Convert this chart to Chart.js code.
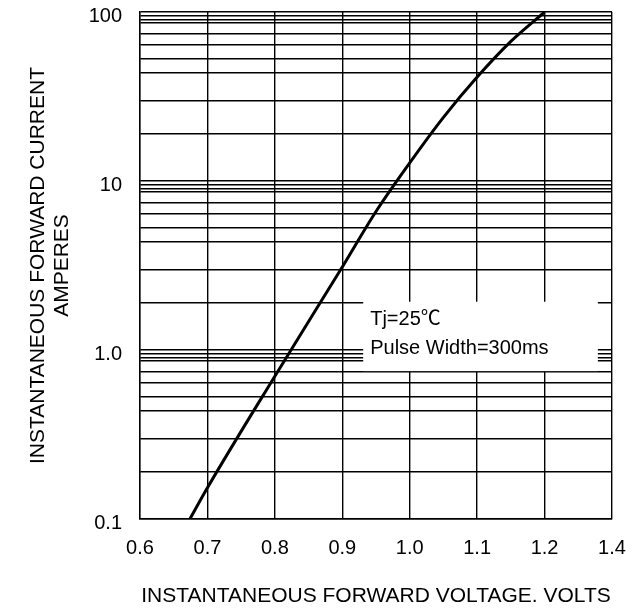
<!DOCTYPE html>
<html>
<head>
<meta charset="utf-8">
<script src="https://cdn.jsdelivr.net/npm/chart.js@4/dist/chart.umd.min.js"></script>
<style>
  html, body { margin: 0; padding: 0; background: #fff; }
  #wrap { width: 637px; height: 610px; }
</style>
</head>
<body>
<div id="wrap"><canvas id="grafico" width="637" height="610"></canvas></div>
<script>
// === dados ===
const voltage = [0.674, 0.70, 0.80, 0.90, 0.95, 1.0, 1.05, 1.10, 1.15, 1.20];
const current = [0.1, 0.153, 0.70, 3.1, 6.6, 12.8, 23.8, 41.2, 67, 100];

// eixo x: 8 linhas, o ultimo rotulo e "1.4" no original
const xTicks  = [0.6, 0.7, 0.8, 0.9, 1.0, 1.1, 1.2, 1.3];
const xLabels = ['0.6', '0.7', '0.8', '0.9', '1.0', '1.1', '1.2', '1.4'];

// eixo y: decadas e linhas de grade dentro de cada decada (como desenhado)
const decades   = [0.1, 1, 10, 100];
const yLabels   = ['0.1', '1.0', '10', '100'];
const minorGrid = [1.9, 3, 4.35, 5.3, 6.4, 7.45, 8.6, 9.0, 9.45];

const noteLines = ['Tj=25\u2103', 'Pulse Width=300ms'];

const FONT = "'Liberation Sans', Arial, 'Noto Sans CJK SC', sans-serif";

const yGridValues = [];
decades.forEach((d, i) => {
  yGridValues.push(d);
  if (i < decades.length - 1) minorGrid.forEach(m => yGridValues.push(d * m));
});

// sem padding extra vindo dos rotulos
function semPadding(s) {
  s.paddingTop = 0;
  s.paddingBottom = 0;
  s.paddingLeft = 0;
  s.paddingRight = 0;
}

// caixa de texto branca
const notaPlugin = {
  id: 'nota',
  afterDatasetsDraw(chart) {
    const { ctx, scales: { x, y } } = chart;
    const left = x.getPixelForValue(0.931);
    const right = x.getPixelForValue(1.279);
    const top = y.getPixelForValue(1.93);
    const bottom = y.getPixelForValue(0.75);
    ctx.save();
    ctx.fillStyle = '#fff';
    ctx.fillRect(left, top, right - left, bottom - top);
    ctx.fillStyle = '#000';
    ctx.font = '20px ' + FONT;
    ctx.textBaseline = 'alphabetic';
    ctx.fillText(noteLines[0], left + 7, top + 23);
    ctx.fillText(noteLines[1], left + 7, top + 52);
    ctx.restore();
  }
};

new Chart(document.getElementById('grafico'), {
  type: 'line',
  data: {
    datasets: [{
      data: voltage.map((v, i) => ({ x: v, y: current[i] })),
      borderColor: '#000',
      borderWidth: 3,
      pointRadius: 0,
      fill: false,
      cubicInterpolationMode: 'monotone'
    }]
  },
  options: {
    responsive: false,
    animation: false,
    layout: { padding: { top: 12, right: 25, bottom: 0, left: 0 } },
    plugins: { legend: { display: false }, tooltip: { enabled: false } },
    scales: {
      x: {
        type: 'linear',
        min: 0.6,
        max: 1.3,
        afterBuildTicks: s => { s.ticks = xTicks.map(v => ({ value: v })); },
        afterFit: s => { s.height = 91; semPadding(s); },
        grid: { color: '#000', lineWidth: 1.4, drawTicks: false },
        border: { color: '#000', width: 1.4 },
        ticks: {
          autoSkip: false,
          maxRotation: 0,
          padding: 17,
          color: '#000',
          font: { family: FONT, size: 20 },
          callback: (v, i) => xLabels[i]
        },
        title: {
          display: true,
          text: 'INSTANTANEOUS FORWARD VOLTAGE. VOLTS',
          color: '#000',
          font: { family: FONT, size: 21 },
          padding: { top: 0, bottom: 1 }
        }
      },
      y: {
        type: 'logarithmic',
        min: 0.1,
        max: 100,
        afterBuildTicks: s => { s.ticks = yGridValues.map(v => ({ value: v })); },
        afterFit: s => { s.width = 140; semPadding(s); },
        grid: { color: '#000', lineWidth: 1.4, drawTicks: false },
        border: { color: '#000', width: 1.4 },
        ticks: {
          autoSkip: false,
          padding: 18,
          labelOffset: 4,
          color: '#000',
          font: { family: FONT, size: 20 },
          callback: v => {
            const k = decades.findIndex(d => Math.abs(d - v) < d * 1e-6);
            return k >= 0 ? yLabels[k] : '';
          }
        },
        title: {
          display: true,
          text: ['INSTANTANEOUS FORWARD CURRENT', 'AMPERES'],
          color: '#000',
          font: { family: FONT, size: 21, lineHeight: 1.15 },
          padding: { top: 26, bottom: 0 }
        }
      }
    }
  },
  plugins: [notaPlugin]
});
</script>
</body>
</html>
